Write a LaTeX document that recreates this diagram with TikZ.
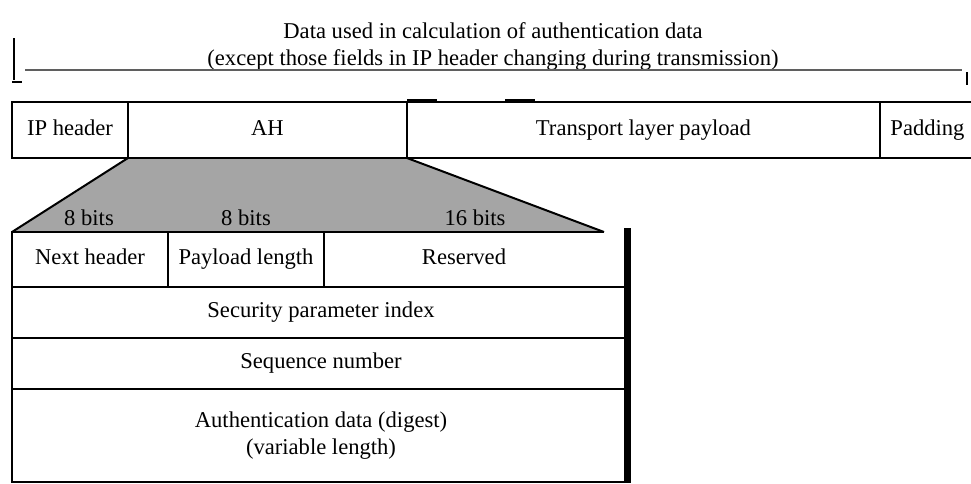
\documentclass[tikz,border=0pt]{standalone}
\usepackage{fontspec}
\setmainfont{Liberation Serif}
\usetikzlibrary{backgrounds}
\definecolor{spanGray}{RGB}{95, 95, 95}
\definecolor{stipple}{RGB}{165, 165, 165}

\begin{document}
\begin{tikzpicture}[
    x=0.5pt, y=-0.5pt,
    box/.style={rectangle, draw, line width=1pt, anchor=north west, inner sep=0pt, outer sep=0pt, align=center, text height=0.7em, text depth=0.2em, font=\fontsize{11.3}{13.5}\selectfont},
    field/.style={box, line width=0.8pt},
    bits/.style={font=\fontsize{11.3}{13.5}\selectfont},
    spanline/.style={spanGray, line width=1pt}
]
\useasboundingbox (0,0) rectangle (971,483);

% caption over the protected span
\node[align=center, font=\fontsize{11.3}{13.5}\selectfont] (caption) at (493,46)
    {Data used in calculation of authentication data\\(except those fields in IP header changing during transmission)};
\coordinate (spanL) at (25,70);
\coordinate (spanR) at (962,70);
\draw[spanline] (spanL) -- (spanR);
\draw[line width=1pt] (14,38) -- (14,80) (12,82) -- (22,82);
\draw[line width=0.8pt] (967,72) -- (967,85);

% IP packet
\node[box, minimum width=58pt, minimum height=28pt] (iph) at (12,102) {IP header};
\node[box, minimum width=139.5pt, minimum height=28pt] (ah) at (128,102) {AH};
\node[box, minimum width=236.5pt, minimum height=28pt] (tlp) at (407,102) {Transport layer payload};
\node[box, minimum width=47.5pt, minimum height=28pt] (pad) at (880,102) {Padding};
\draw[line width=1.2pt] (407,100.5) -- (437,100.5) (505,100.5) -- (535,100.5);

% AH fields
\node[field, minimum width=78pt, minimum height=27.5pt] (nxt) at (12,232) {Next header};
\node[field, minimum width=78pt, minimum height=27.5pt] (plen) at (168,232) {Payload length};
\node[field, draw=none, minimum width=140pt, minimum height=27.5pt] (rsv) at (324,232) {Reserved};
\draw[line width=0.8pt] (rsv.north west) -- (rsv.north east) (rsv.south west) -- (rsv.south east);
\node[field, minimum width=309pt, minimum height=25.5pt] (spi) at (12,287) {Security parameter index};
\node[field, minimum width=309pt, minimum height=25.5pt] (seq) at (12,338) {Sequence number};
\node[field, text height=, text depth=, minimum width=309pt, minimum height=46.5pt] (auth) at (12,389) {Authentication data (digest)\\(variable length)};

\coordinate (barT) at (627.5,228);
\coordinate (barB) at (627.5,483);
\draw[line width=3.5pt] (barT) -- (barB);

% expansion of AH
\begin{scope}[on background layer]
\fill[stipple] (ah.south west) -- (ah.south east) -- (rsv.north east) -- (nxt.north west) -- cycle;
\end{scope}
\draw[line width=1pt] (ah.south west) -- (nxt.north west);
\draw[line width=1pt] (ah.south east) -- (rsv.north east);

\node[bits] (b1) at (89,218) {8 bits};
\node[bits] (b2) at (246,218) {8 bits};
\node[bits] (b3) at (475,218) {16 bits};

\end{tikzpicture}
\end{document}
